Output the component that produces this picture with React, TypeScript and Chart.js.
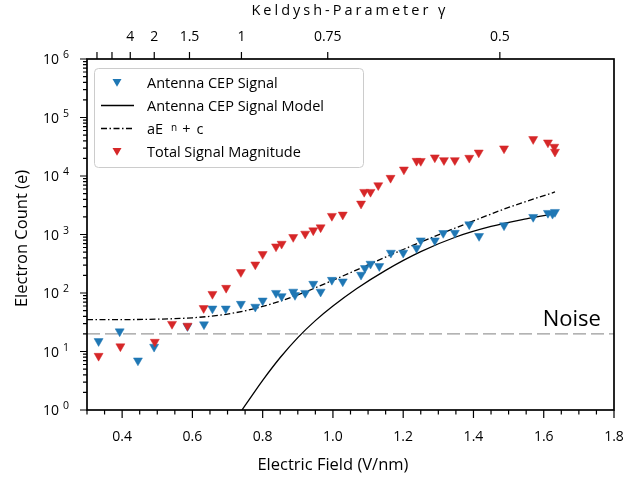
import React, { useEffect, useRef } from "react";
import { Chart, registerables } from "chart.js";

Chart.register(...registerables);

// ---------- data ----------
const blueField = [0.333, 0.393, 0.445, 0.491, 0.586, 0.633, 0.657, 0.695, 0.738, 0.779, 0.8, 0.838, 0.854, 0.887, 0.892, 0.921, 0.944, 0.965, 0.997, 1.028, 1.08, 1.091, 1.107, 1.132, 1.165, 1.2, 1.238, 1.25, 1.29, 1.314, 1.347, 1.388, 1.416, 1.487, 1.57, 1.612, 1.625, 1.632];
const blueCount = [15, 22, 7, 12, 27, 29, 54, 54, 65, 58, 74, 100, 88, 105, 92, 100, 143, 105, 167, 157, 204, 266, 315, 287, 486, 486, 585, 789, 789, 1057, 1065, 1485, 938, 1427, 1987, 2330, 2250, 2420];

const redField = [0.333, 0.395, 0.493, 0.542, 0.586, 0.632, 0.657, 0.696, 0.738, 0.779, 0.8, 0.838, 0.854, 0.887, 0.921, 0.944, 0.965, 0.997, 1.028, 1.08, 1.089, 1.107, 1.129, 1.164, 1.202, 1.238, 1.25, 1.29, 1.316, 1.347, 1.388, 1.415, 1.487, 1.57, 1.612, 1.63, 1.632];
const redCount = [8.4, 12.2, 14.6, 29.5, 27.5, 55, 96, 122, 227, 306, 461, 623, 692, 902, 1028, 1172, 1320, 2070, 2180, 3360, 5330, 5330, 6920, 9260, 12860, 18100, 18000, 20700, 18600, 18600, 20400, 25100, 29500, 42600, 37300, 31500, 25900];

const modelField = [0.741, 0.77, 0.8, 0.85, 0.9, 0.95, 1.0, 1.067, 1.15, 1.25, 1.35, 1.45, 1.55, 1.632];
const modelCount = [1.0, 1.78, 3.21, 7.89, 17.3, 33.7, 59.8, 118, 244, 509, 906, 1371, 1849, 2275];

const fitField = [0.3, 0.4, 0.5, 0.6, 0.7, 0.8, 0.9, 1.0, 1.1, 1.2, 1.3, 1.4, 1.5, 1.632];
const fitCount = [35, 35.1, 35.7, 37.7, 43.6, 58.8, 93, 165, 303, 554, 988, 1709, 2900, 5330];

const noiseField = [0.3, 1.8];
const noiseCount = [20, 20];

const seriesLabels = ["Antenna CEP Signal", "Antenna CEP Signal Model", "aE n + c", "Total Signal Magnitude"];

// axes
const xMajorTicks = [0.4, 0.6, 0.8, 1.0, 1.2, 1.4, 1.6, 1.8];
const xMajorLabels = ["0.4", "0.6", "0.8", "1.0", "1.2", "1.4", "1.6", "1.8"];
const yDecadeExponents = [0, 1, 2, 3, 4, 5, 6];
const topTickField = [0.3284, 0.3711, 0.4231, 0.4914, 0.5917, 0.7396, 0.9852, 1.4751];
const topTickLabels = ["", "", "4", "2", "1.5", "1", "0.75", "0.5"];

const BLUE = "#1f77b4";
const RED = "#d62728";
const FONT = '"Open Sans", "Noto Sans", sans-serif';

export default function App() {
  const ref = useRef<HTMLCanvasElement>(null);

  useEffect(() => {
    document.body.style.margin = "0";
    const canvas = ref.current!;
    const pts = (xs: number[], ys: number[]) => xs.map((x, i) => ({ x, y: ys[i] }));

    const tri = { pointStyle: "triangle", rotation: 180, pointRadius: 5.2, borderWidth: 0.5, showLine: false };

    const decor = {
      id: "decor",
      afterDatasetsDraw(chart: any) {
        const { ctx, chartArea: a } = chart;
        const xs = chart.scales.x;
        const ys = chart.scales.y;
        ctx.save();
        ctx.strokeStyle = "#000";
        ctx.fillStyle = "#000";
        ctx.lineWidth = 1.2;
        ctx.beginPath();
        // x minor ticks (0.05 steps)
        for (let k = 0; k <= 30; k++) {
          const v = 0.3 + k * 0.05;
          const px = xs.getPixelForValue(v);
          ctx.moveTo(px, a.bottom);
          ctx.lineTo(px, a.bottom + 4.5);
        }
        for (const v of xMajorTicks) {
          const px = xs.getPixelForValue(v);
          ctx.moveTo(px, a.bottom);
          ctx.lineTo(px, a.bottom + 8);
        }
        for (const v of topTickField) {
          const px = xs.getPixelForValue(v);
          ctx.moveTo(px, a.top);
          ctx.lineTo(px, a.top - 7);
        }
        for (const d of yDecadeExponents) {
          const py = ys.getPixelForValue(Math.pow(10, d));
          ctx.moveTo(a.left, py);
          ctx.lineTo(a.left - 7, py);
          if (d < 6) {
            for (let m = 2; m <= 9; m++) {
              const pm = ys.getPixelForValue(m * Math.pow(10, d));
              ctx.moveTo(a.left, pm);
              ctx.lineTo(a.left - 4, pm);
            }
          }
        }
        ctx.stroke();
        // frame
        ctx.lineWidth = 1.7;
        ctx.strokeRect(a.left, a.top, a.right - a.left, a.bottom - a.top);

        // x tick labels
        ctx.font = `14px ${FONT}`;
        ctx.textAlign = "center";
        ctx.textBaseline = "alphabetic";
        xMajorTicks.forEach((v, i) => {
          ctx.fillText(xMajorLabels[i], xs.getPixelForValue(v), a.bottom + 31);
        });
        // top labels
        topTickField.forEach((v, i) => {
          if (topTickLabels[i]) ctx.fillText(topTickLabels[i], xs.getPixelForValue(v), a.top - 18);
        });
        // y labels
        for (const d of yDecadeExponents) {
          const py = ys.getPixelForValue(Math.pow(10, d));
          ctx.font = `14px ${FONT}`;
          ctx.textAlign = "right";
          ctx.fillText("10", a.left - 28, py + 5);
          ctx.font = `10.5px ${FONT}`;
          ctx.textAlign = "left";
          ctx.fillText(String(d), a.left - 24, py - 1);
        }
        // titles
        ctx.font = `16.5px ${FONT}`;
        ctx.textAlign = "center";
        ctx.fillText("Electric Field (V/nm)", xs.getPixelForValue(1.0), 470);
        ctx.save();
        ctx.translate(27, (a.top + a.bottom) / 2 + 4);
        ctx.rotate(-Math.PI / 2);
        ctx.fillText("Electron Count (e)", 0, 0);
        ctx.restore();
        ctx.font = `14.5px ${FONT}`;
        (ctx as any).letterSpacing = "3px";
        ctx.fillText("Keldysh-Parameter γ", 350, 15);
        (ctx as any).letterSpacing = "0px";
        // Noise label
        ctx.font = `22px ${FONT}`;
        ctx.textAlign = "left";
        ctx.fillText("Noise", xs.getPixelForValue(1.597), ys.getPixelForValue(noiseCount[0]) - 8);
        ctx.restore();
      },
      afterDraw(chart: any) {
        const { ctx, chartArea: a } = chart;
        const bx = a.left + 7;
        const by = a.top + 9;
        const bw = 269;
        const bh = 99;
        ctx.save();
        ctx.beginPath();
        if ((ctx as any).roundRect) (ctx as any).roundRect(bx + 0.5, by + 0.5, bw, bh, 4);
        else ctx.rect(bx + 0.5, by + 0.5, bw, bh);
        ctx.fillStyle = "rgba(255,255,255,0.85)";
        ctx.fill();
        ctx.strokeStyle = "#cccccc";
        ctx.lineWidth = 1;
        ctx.stroke();

        const rows = [by + 14.5, by + 37.5, by + 60.5, by + 83.5];
        const mx = bx + 23;
        const tx = bx + 53;
        const drawTri = (x: number, y: number, c: string) => {
          const r = 5.2;
          ctx.beginPath();
          ctx.moveTo(x, y + r);
          ctx.lineTo(x - 0.866 * r, y - 0.5 * r);
          ctx.lineTo(x + 0.866 * r, y - 0.5 * r);
          ctx.closePath();
          ctx.fillStyle = c;
          ctx.fill();
        };
        drawTri(mx, rows[0] - 1, BLUE);
        drawTri(mx, rows[3] - 1, RED);
        ctx.strokeStyle = "#000";
        ctx.lineWidth = 1.3;
        ctx.beginPath();
        ctx.moveTo(bx + 7, rows[1]);
        ctx.lineTo(bx + 40, rows[1]);
        ctx.stroke();
        ctx.setLineDash([6, 2.5, 1.5, 2.5]);
        ctx.beginPath();
        ctx.moveTo(bx + 7, rows[2]);
        ctx.lineTo(bx + 40, rows[2]);
        ctx.stroke();
        ctx.setLineDash([]);

        ctx.fillStyle = "#000";
        ctx.textAlign = "left";
        ctx.textBaseline = "alphabetic";
        ctx.font = `14.5px ${FONT}`;
        ctx.fillText(seriesLabels[0], tx, rows[0] + 5.2);
        ctx.fillText(seriesLabels[1], tx, rows[1] + 5.2);
        ctx.fillText(seriesLabels[3], tx, rows[3] + 5.2);
        // "aE^n + c"
        const parts = seriesLabels[2].split(" ");
        let x = tx;
        ctx.fillText(parts[0], x, rows[2] + 5.2);
        x += ctx.measureText(parts[0]).width + 8;
        ctx.font = `10px ${FONT}`;
        ctx.fillText(parts[1], x, rows[2] + 2);
        x += ctx.measureText(parts[1]).width + 5;
        ctx.font = `14.5px ${FONT}`;
        ctx.fillText(parts[2], x, rows[2] + 5.2);
        x += ctx.measureText(parts[2]).width + 6;
        ctx.fillText(parts[3], x, rows[2] + 5.2);
        ctx.restore();
      },
    };

    const chart = new Chart(canvas, {
      type: "scatter",
      data: {
        datasets: [
          { label: seriesLabels[3], data: pts(redField, redCount), backgroundColor: RED, borderColor: RED, ...tri } as any,
          { label: seriesLabels[0], data: pts(blueField, blueCount), backgroundColor: BLUE, borderColor: BLUE, ...tri } as any,
          {
            label: seriesLabels[2], data: pts(fitField, fitCount), showLine: true, pointRadius: 0,
            borderColor: "#000", borderWidth: 1.3, borderDash: [6, 2.5, 1.5, 2.5], cubicInterpolationMode: "monotone", fill: false,
          } as any,
          {
            label: seriesLabels[1], data: pts(modelField, modelCount), showLine: true, pointRadius: 0,
            borderColor: "#000", borderWidth: 1.3, cubicInterpolationMode: "monotone", fill: false,
          } as any,
          {
            label: "Noise", data: pts(noiseField, noiseCount), showLine: true, pointRadius: 0,
            borderColor: "#9a9a9a", borderWidth: 1.3, borderDash: [13, 5], fill: false,
          } as any,
        ],
      },
      options: {
        responsive: false,
        animation: false,
        devicePixelRatio: 1,
        layout: { padding: { left: 87, right: 10, top: 59, bottom: 67 } },
        scales: {
          x: { type: "linear", min: 0.3, max: 1.8, display: false },
          y: { type: "logarithmic", min: 1, max: 1e6, display: false },
        },
        plugins: { legend: { display: false }, tooltip: { enabled: false } },
      },
      plugins: [decor],
    });
    return () => chart.destroy();
  }, []);

  return <canvas ref={ref} width={624} height={477} style={{ display: "block" }} />;
}
